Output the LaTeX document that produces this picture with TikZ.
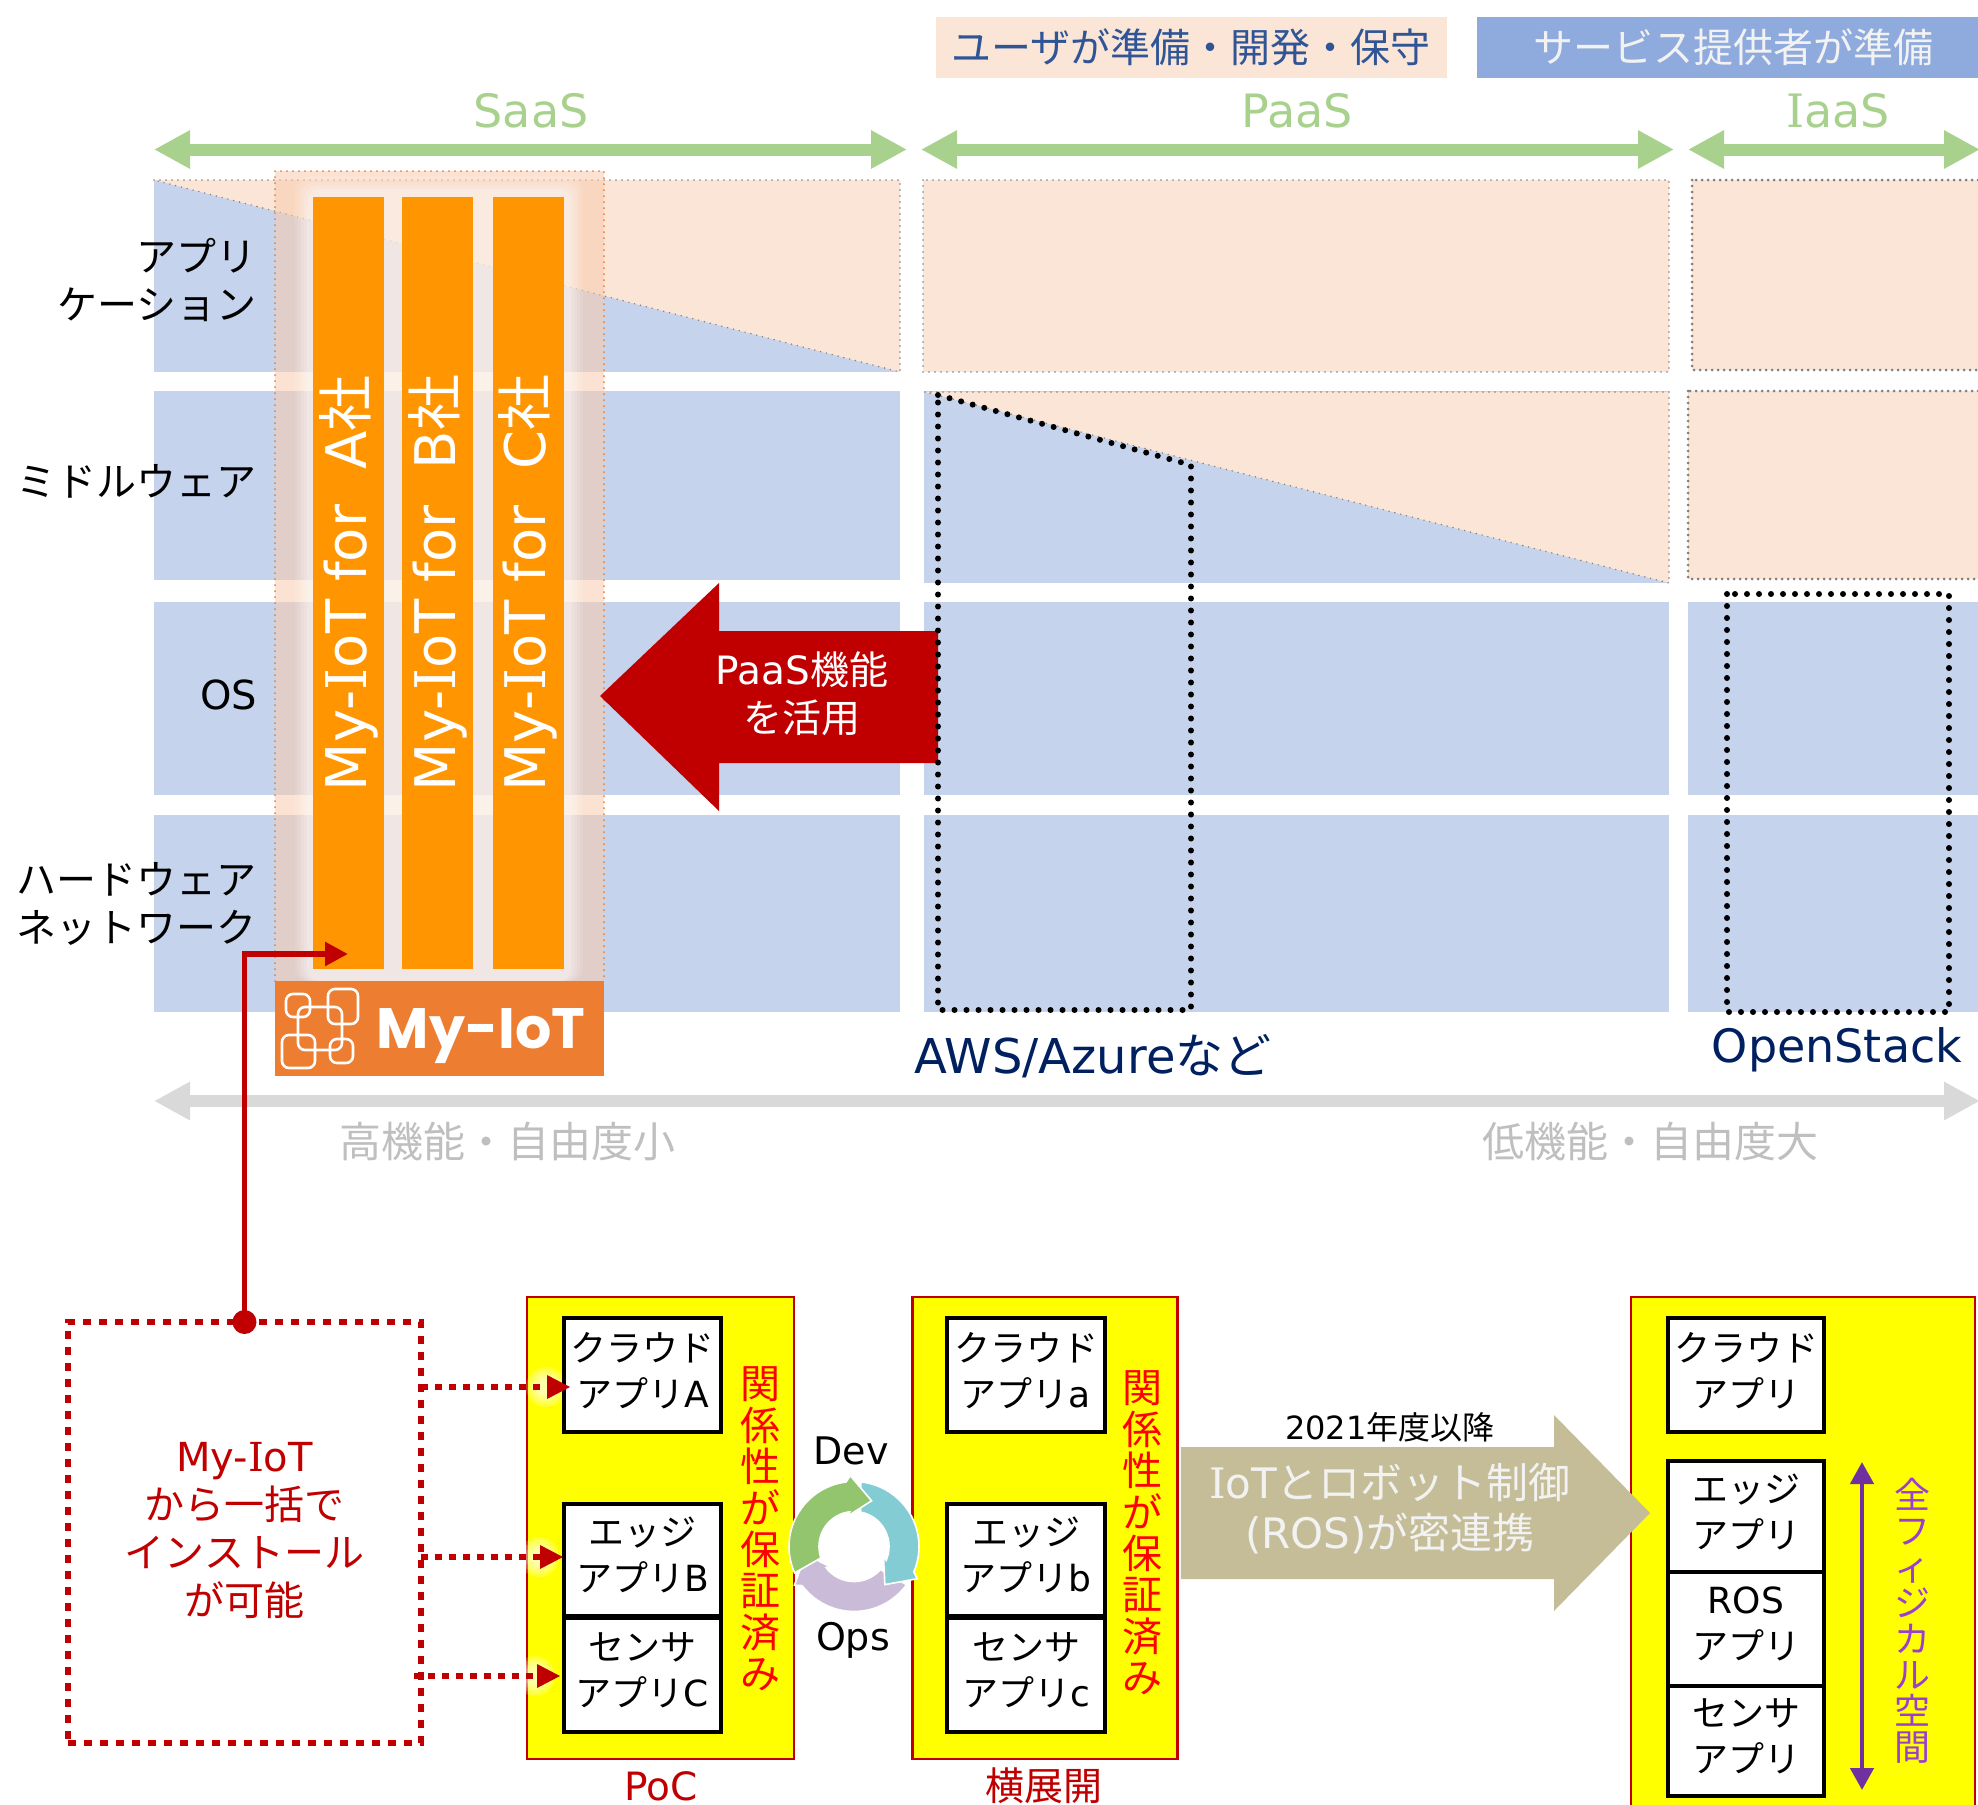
\documentclass[tikz,border=0pt]{standalone}
\usepackage{fontspec}
\setmainfont{Noto Sans CJK JP}
\newfontfamily\lat{DejaVu Sans}
\newfontfamily\slab{DejaVu Serif}
\newfontfamily\logofont{Poppins}
\usetikzlibrary{arrows.meta}
\definecolor{peach}{HTML}{FBE5D6}
\definecolor{overlaypeach}{HTML}{F8CBAD}
\definecolor{cellblue}{HTML}{C5D3EC}
\definecolor{legendblue}{HTML}{8FAADC}
\definecolor{legendtext}{HTML}{2F5597}
\definecolor{layergreen}{HTML}{A9D18E}
\definecolor{barorange}{HTML}{FF9500}
\definecolor{logoorange}{HTML}{ED7D31}
\definecolor{darkred}{HTML}{C00000}
\definecolor{navy}{HTML}{002060}
\definecolor{beige}{HTML}{C4BD97}
\definecolor{rangegray}{HTML}{D9D9D9}
\definecolor{rangetext}{HTML}{BFBFBF}
\definecolor{dotgray}{HTML}{7F7F7F}
\definecolor{spacearrow}{HTML}{7030A0}
\definecolor{spacetext}{HTML}{9A3FD0}
\definecolor{cyclegreen}{HTML}{92C56E}
\definecolor{cycleteal}{HTML}{84CCD4}
\definecolor{cyclelilac}{HTML}{CABCD8}
\definecolor{stageyellow}{RGB}{255,255,0}
\definecolor{notered}{RGB}{255,0,0}
\newcommand{\fsz}[2]{\fontsize{#1}{#2}\selectfont}
\newcommand{\sI}{{\slab I}}
\tikzset{
  span/.style={line width=6pt,{Triangle[length=18pt,width=18pt]}-{Triangle[length=18pt,width=18pt]}},
  costbox/.style={fill=peach,draw=dotgray,line width=.8pt,line cap=round,dash pattern=on 0pt off 3pt},
  marker/.style={draw=black,line width=3pt,line cap=round,dash pattern=on 0pt off 6pt},
  layerlabel/.style={anchor=east,align=right,font=\fsz{20}{24}},
  companybar/.style={fill=barorange,text=white,rotate=90,minimum width=386pt,minimum height=35.5pt,inner sep=0pt,font=\fsz{28}{30}},
  stage/.style={fill=stageyellow,draw=darkred,line width=1.3pt,inner sep=0pt},
  appbox/.style={fill=white,draw=black,line width=1.8pt,inner sep=0pt,align=center,text depth=5.5pt,font=\fsz{18}{23}},
  vlabel/.style={align=center,font=\fsz{20}{20.7}},
  install/.style={draw=darkred,line width=3.3pt,outer sep=0pt,dash pattern=on 4pt off 4pt},
  push/.style={draw=darkred,line width=3.3pt,dash pattern=on 3.5pt off 3.5pt},
  pushtip/.style={fill=darkred},
}
\begin{document}
\begin{tikzpicture}[x=.5pt,y=-.5pt]
\clip (0,0) rectangle (1978,1805);

\node[fill=peach,text=legendtext,minimum width=255.5pt,minimum height=30.5pt,inner sep=0pt,font=\fsz{20}{24}] (legendUser) at (1191,47) {ユーザが準備・開発・保守};
\node[fill=legendblue,text=white!95!black,minimum width=250.5pt,minimum height=30.5pt,inner sep=0pt,font=\fsz{20}{24}] (legendProvider) at (1727.5,47) {\hspace{6pt}サービス提供者が準備};

\node[text=layergreen,font=\lat\fsz{23}{28}] (saas) at (531,111) {SaaS};
\node[text=layergreen,font=\lat\fsz{23}{28}] (paas) at (1297,111) {PaaS};
\node[text=layergreen,font=\lat\fsz{23}{28}] (iaas) at (1838,111) {\sI aaS};
\foreach \name/\xa/\xb in {saasSpan/154/907,paasSpan/921/1674,iaasSpan/1688/1980} {
  \coordinate (\name L) at (\xa,149.5);
  \coordinate (\name R) at (\xb,149.5);
  \draw[span,layergreen] (\name L) -- (\name R);
}

\foreach \xa/\ya/\xb/\yb in {154/180/900/372,154/391/900/580,154/602/900/795,154/815/900/1012,924/391/1669/583,924/602/1669/795,924/815/1669/1012,1688/602/1985/795,1688/815/1985/1012}
  \fill[cellblue] (\xa,\ya) rectangle (\xb,\yb);
\draw[costbox] (154,180) -- (900,180) -- (900,372) -- cycle;
\draw[costbox] (923,180) rectangle (1669,372);
\draw[costbox] (925,392) -- (1669,392) -- (1669,583) -- cycle;
\draw[costbox,line width=1.5pt] (1692,180) rectangle (1990,370);
\draw[costbox,line width=1.5pt] (1688,391) rectangle (1990,579);

\node[layerlabel] (rowApp) at (264,280) {アプリ\\ケーション};
\node[layerlabel] (rowMid) at (264,481) {ミドルウェア};
\node[layerlabel] (rowOs) at (264,695) {\lat OS};
\node[layerlabel] (rowHw) at (264,904) {ハードウェア\\ネットワーク};

\fill[overlaypeach,fill opacity=.55] (275,171) rectangle (604,981);
\draw[logoorange,line width=1pt,line cap=round,dash pattern=on 0pt off 3pt] (275,981) -- (275,171) -- (604,171) -- (604,981);
\foreach \d/\op in {0/.1,3/.12,6/.14,9/.16,12/.18}
  \fill[white,fill opacity=\op,rounded corners=6pt] (295+\d,177+\d) rectangle (583-\d,981);

\node[companybar] (barA) at (348.5,583) {{\lat My-\sI oT for\ \ A}社};
\node[companybar] (barB) at (437.5,583) {{\lat My-\sI oT for\ \ B}社};
\node[companybar] (barC) at (528,583) {{\lat My-\sI oT for\ \ C}社};

\fill[logoorange] (275,981) rectangle (604,1076);
\foreach \xa/\ya/\xb/\yb in {286/994/310/1017,328/989/358/1024,298/1007/342/1050,282/1035/315/1068,330/1039/353/1063}
  \draw[white,line width=1.3pt,rounded corners=3.5pt] (\xa,\ya) rectangle (\xb,\yb);
\node[text=white,font=\logofont\bfseries\fsz{28.5}{30},inner sep=0pt] (logoText) at (481,1036) {My-IoT};

\fill[darkred] (600,696) -- (719,583) -- (719,631) -- (938,631) -- (938,763) -- (719,763) -- (719,811) -- cycle;
\node[text=white,align=center,font=\fsz{19.5}{24}] (paasUse) at (802,694) {{\lat PaaS}機能\\を活用};

\draw[marker] (938,395) -- (1191,465) -- (1191,1010) -- (938,1010) -- cycle;
\draw[marker] (1727,594) rectangle (1949,1012);
\node[text=navy,font=\fsz{24}{28}] (awsLabel) at (1093,1056) {{\lat AWS/Azure}など};
\node[text=navy,font=\lat\fsz{23}{28}] (osLabel) at (1837,1050) {OpenStack};

\coordinate (rangeL) at (154,1101);
\coordinate (rangeR) at (1980,1101);
\draw[span,rangegray] (rangeL) -- (rangeR);
\node[text=rangetext,font=\fsz{21}{24}] (rangeHigh) at (507,1142) {高機能・自由度小};
\node[text=rangetext,font=\fsz{21}{24}] (rangeLow) at (1650,1142) {低機能・自由度大};

\node[install,minimum width=176.5pt,minimum height=210.5pt,inner sep=0pt,text=darkred,align=center,text depth=3.5pt,font=\fsz{20}{24}] (installBox) at (244.5,1532.5) {{\lat My-\sI oT}\\から一括で\\インストール\\が可能};

\coordinate (barTip) at (348,954);
\fill[darkred] (installBox.north) circle (12);
\draw[darkred,line width=2.8pt,-{Triangle[length=11.5pt,width=11.5pt]}] (installBox.north) |- (barTip);

\node[stage,minimum width=133.5pt,minimum height=231pt] (pocBox) at (660.5,1528) {};
\node[stage,minimum width=132.5pt,minimum height=231pt] (expandBox) at (1044.75,1528) {};
\node[stage,minimum width=172pt,minimum height=270pt] (fullBox) at (1803,1567) {};

\foreach \cx/\cy in {546/1387,539/1557,535/1676}
  \foreach \r in {20,17,14,11,8}
    \fill[white,fill opacity=.2] (\cx,\cy) circle (\r);

\node[appbox,minimum width=78.5pt,minimum height=57pt] (pocCloud) at (642.5,1375) {クラウド\\アプリ{\lat A}};
\node[appbox,minimum width=78.5pt,minimum height=56pt] (pocEdge) at (642.5,1560) {エッジ\\アプリ{\lat B}};
\node[appbox,minimum width=78.5pt,minimum height=57pt] (pocSensor) at (642.5,1675) {センサ\\アプリ{\lat C}};
\node[appbox,minimum width=79pt,minimum height=57pt] (expandCloud) at (1026,1375) {クラウド\\アプリ{\lat a}};
\node[appbox,minimum width=79pt,minimum height=56pt] (expandEdge) at (1026,1560) {エッジ\\アプリ{\lat b}};
\node[appbox,minimum width=79pt,minimum height=57pt] (expandSensor) at (1026,1675) {センサ\\アプリ{\lat c}};
\node[appbox,minimum width=78pt,minimum height=57pt] (fullCloud) at (1746,1375) {クラウド\\アプリ};
\node[appbox,minimum width=78pt,minimum height=55.5pt] (fullEdge) at (1746,1516.5) {エッジ\\アプリ};
\node[appbox,minimum width=78pt,minimum height=57pt] (fullRos) at (1746,1629) {{\lat ROS}\\アプリ};
\node[appbox,minimum width=78pt,minimum height=55pt] (fullSensor) at (1746,1741) {センサ\\アプリ};

\node[vlabel,text=notered] (pocNote) at (760,1529) {関\\係\\性\\が\\保\\証\\済\\み};
\node[vlabel,text=notered] (expandNote) at (1142,1533) {関\\係\\性\\が\\保\\証\\済\\み};
\node[align=center,font=\fsz{18}{18},text=spacetext] (fullNote) at (1912,1621) {全\\フ\\ィ\\ジ\\カ\\ル\\空\\間};

\node[text=darkred,inner sep=0pt,font=\lat\fsz{19.5}{22}] (pocLabel) at (661,1786) {PoC};
\node[text=darkred,inner sep=0pt,font=\fsz{19.5}{22}] (expandLabel) at (1044,1786) {横展開};

\foreach \name/\tx/\ty/\sx in {tipA/570/1387/421,tipB/563/1557/421,tipC/560/1676/414} {
  \coordinate (\name) at (\tx,\ty);
  \coordinate (\name s) at (\sx,\ty);
  \draw[push] (\name s) -- ([xshift=-11pt]\name);
  \fill[pushtip] (\name) -- ++(-23,-12) -- ++(0,24) -- cycle;
}

\foreach \d/\col in {240/cyclelilac,120/cycleteal,0/cyclegreen}
  \filldraw[fill=\col,draw=white,line width=.8pt,shift={(854,1546.5)}] plot[domain=-204+\d:-97+\d,samples=24,variable=\t] (\t:65) -- ({-93+\d}:71) -- ({-69+\d}:49) -- ({-102+\d}:31) -- ({-97+\d}:35) -- plot[domain=-97+\d:-199+\d,samples=24,variable=\t] (\t:35) -- cycle;
\node[font=\lat\fsz{19}{22}] (devLabel) at (851,1451) {Dev};
\node[font=\lat\fsz{19}{22}] (opsLabel) at (853,1640) {Ops};

\fill[beige] (1181,1447) -- (1554,1447) -- (1554,1415) -- (1650,1513) -- (1554,1611) -- (1554,1579) -- (1181,1579) -- cycle;
\node[font=\fsz{16}{20}] (yearLabel) at (1390,1427) {{\lat 2021}年度以降};
\node[text=white!95!black,align=center,font=\fsz{21}{25}] (rosLabel) at (1390,1509) {{\lat \sI oT}とロボット制御\\{\lat (ROS)}が密連携};

\coordinate (spaceTop) at (1862,1462);
\coordinate (spaceBottom) at (1862,1790);
\draw[spacearrow,line width=2.3pt,{Triangle[length=11pt,width=11.5pt]}-{Triangle[length=11pt,width=11.5pt]}] (spaceTop) -- (spaceBottom);
\end{tikzpicture}
\end{document}
